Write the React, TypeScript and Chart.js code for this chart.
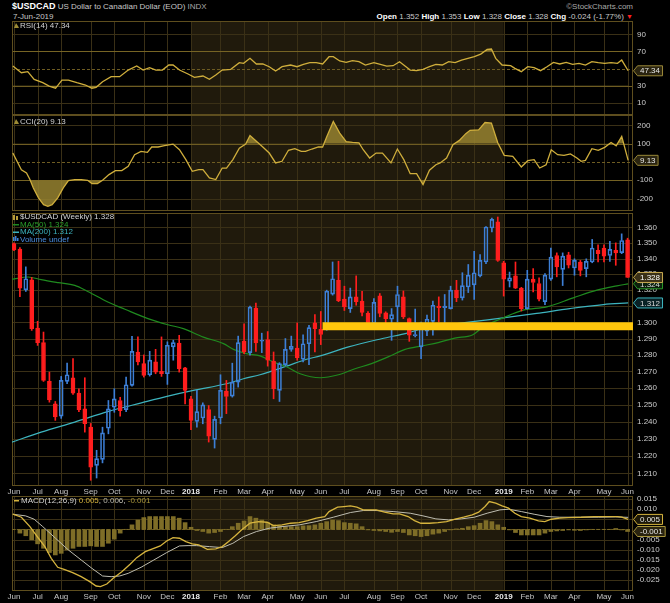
import React, { useEffect, useRef } from 'react';
import { Chart, registerables } from 'chart.js';
Chart.register(...registerables);

const FONT = '"Liberation Sans", Arial, sans-serif';
const BG = '#000000';
const SHADE = '#201a0c';
const GRID = '#3a3016';
const GRID_BRIGHT = '#6e5c22';
const FRAME = '#5e4e1e';
const TXT = '#cccccc';

// ---------- time axis (weekly bars, index 0 = first week of Jun-2017, 104 = 7-Jun-2019) ----------
const MONTH_IDX = [0, 4, 8, 13, 17, 22, 26, 30, 35, 39, 43, 48, 52, 56, 61, 65, 69, 74, 78, 83, 87, 91, 95, 100, 104];
const MONTH_LBL = ['Jun', 'Jul', 'Aug', 'Sep', 'Oct', 'Nov', 'Dec', '2018', 'Feb', 'Mar', 'Apr', 'May', 'Jun', 'Jul', 'Aug', 'Sep', 'Oct', 'Nov', 'Dec', '2019', 'Feb', 'Mar', 'Apr', 'May', 'Jun'];
const SHADE_START = 30;
const SHADE_END = 83;
const X_MIN = -0.34;
const X_MAX = 104.92;

// ---------- price candles ----------
const opens = [1.3495, 1.346, 1.3202, 1.3265, 1.2965, 1.2875, 1.264, 1.2506, 1.2433, 1.264, 1.2662, 1.257, 1.2476, 1.2368, 1.2146, 1.218, 1.2362, 1.2486, 1.2526, 1.2472, 1.2616, 1.2818, 1.2747, 1.268, 1.2758, 1.27, 1.2686, 1.2849, 1.2873, 1.2722, 1.2536, 1.2402, 1.2422, 1.2472, 1.2297, 1.2422, 1.2582, 1.2552, 1.2636, 1.2883, 1.2814, 1.3088, 1.2884, 1.2894, 1.2762, 1.2586, 1.2741, 1.2834, 1.2842, 1.2774, 1.2868, 1.2996, 1.2957, 1.2957, 1.3175, 1.3262, 1.3144, 1.3085, 1.3158, 1.3132, 1.3055, 1.2992, 1.3164, 1.3059, 1.3019, 1.3096, 1.3158, 1.3023, 1.2917, 1.2849, 1.2945, 1.3006, 1.31, 1.309, 1.3085, 1.32, 1.3152, 1.322, 1.3233, 1.329, 1.3378, 1.3596, 1.3635, 1.3373, 1.3256, 1.329, 1.3213, 1.3085, 1.3269, 1.3242, 1.3128, 1.3269, 1.3419, 1.3331, 1.3423, 1.334, 1.3378, 1.3336, 1.3378, 1.3452, 1.3467, 1.3419, 1.3452, 1.3438, 1.352];
const highs = [1.35, 1.347, 1.3347, 1.328, 1.3006, 1.294, 1.2696, 1.252, 1.267, 1.275, 1.2778, 1.2596, 1.2662, 1.239, 1.2233, 1.2368, 1.2526, 1.2596, 1.2545, 1.2666, 1.2913, 1.291, 1.28, 1.2822, 1.2834, 1.291, 1.288, 1.289, 1.292, 1.2725, 1.255, 1.2586, 1.2512, 1.2496, 1.2433, 1.268, 1.2646, 1.275, 1.2915, 1.299, 1.31, 1.312, 1.2933, 1.2943, 1.2818, 1.2753, 1.29, 1.2915, 1.2996, 1.2923, 1.2981, 1.3048, 1.3067, 1.32, 1.3378, 1.3383, 1.3225, 1.3213, 1.329, 1.3193, 1.3067, 1.3148, 1.3179, 1.3065, 1.3085, 1.3225, 1.3195, 1.3027, 1.3082, 1.3002, 1.3044, 1.3132, 1.3158, 1.3173, 1.3225, 1.3262, 1.331, 1.3362, 1.3446, 1.3425, 1.3605, 1.366, 1.3667, 1.3382, 1.3314, 1.3378, 1.3218, 1.3325, 1.3336, 1.3277, 1.3304, 1.3467, 1.3436, 1.3436, 1.344, 1.3398, 1.3388, 1.3398, 1.3522, 1.3488, 1.3488, 1.351, 1.35, 1.3558, 1.353];
const lows = [1.345, 1.316, 1.3192, 1.295, 1.2858, 1.264, 1.2516, 1.2408, 1.242, 1.2626, 1.2562, 1.246, 1.2339, 1.206, 1.2073, 1.216, 1.2329, 1.2456, 1.2433, 1.246, 1.2612, 1.274, 1.2666, 1.2672, 1.2686, 1.267, 1.2622, 1.2768, 1.2696, 1.2506, 1.2354, 1.2368, 1.2388, 1.2281, 1.2246, 1.2388, 1.2448, 1.2546, 1.2606, 1.2808, 1.2798, 1.2822, 1.2814, 1.2732, 1.2536, 1.252, 1.2732, 1.2822, 1.2768, 1.2758, 1.2741, 1.2818, 1.2863, 1.2951, 1.3169, 1.3128, 1.3073, 1.3061, 1.3106, 1.304, 1.2971, 1.2971, 1.3034, 1.2998, 1.2889, 1.3002, 1.3023, 1.2883, 1.291, 1.2778, 1.2917, 1.2921, 1.3002, 1.2998, 1.3082, 1.3128, 1.3138, 1.3185, 1.3142, 1.3284, 1.3367, 1.357, 1.3382, 1.3163, 1.322, 1.321, 1.307, 1.3082, 1.3189, 1.3132, 1.311, 1.3262, 1.3284, 1.3229, 1.334, 1.3294, 1.329, 1.3284, 1.3373, 1.3378, 1.3378, 1.3382, 1.3357, 1.3431, 1.328];
const closes = [1.3455, 1.3213, 1.3272, 1.2961, 1.2875, 1.2646, 1.253, 1.2428, 1.2646, 1.268, 1.257, 1.2472, 1.2388, 1.2136, 1.2185, 1.2335, 1.2476, 1.2536, 1.2466, 1.262, 1.2822, 1.2758, 1.2676, 1.2768, 1.2696, 1.2686, 1.2859, 1.2875, 1.2716, 1.2586, 1.2408, 1.246, 1.25, 1.2316, 1.2414, 1.2586, 1.255, 1.2636, 1.2875, 1.2818, 1.3094, 1.2873, 1.2888, 1.2768, 1.2596, 1.2747, 1.2834, 1.2852, 1.2784, 1.2868, 1.2967, 1.2961, 1.2925, 1.3193, 1.3272, 1.3134, 1.3096, 1.3158, 1.3128, 1.3061, 1.2982, 1.3124, 1.3055, 1.3023, 1.3048, 1.3173, 1.3034, 1.2921, 1.2925, 1.2996, 1.3019, 1.3106, 1.309, 1.31, 1.32, 1.3152, 1.3229, 1.3294, 1.331, 1.3388, 1.3602, 1.3652, 1.3388, 1.3269, 1.3277, 1.3213, 1.3085, 1.3269, 1.3248, 1.3144, 1.3294, 1.3409, 1.3346, 1.3415, 1.3357, 1.3388, 1.3325, 1.3382, 1.3467, 1.3431, 1.3415, 1.3458, 1.3436, 1.3515, 1.328];

// moving averages, [bar index, value]
const MA50: [number, number][] = [[-0.34, 1.3268], [2.4, 1.3283], [4.6, 1.3266], [7.5, 1.3247], [10.3, 1.323], [12.5, 1.3192], [15.9, 1.3126], [18.8, 1.3081], [22.7, 1.3023], [26.1, 1.2985], [28.7, 1.2961], [32.1, 1.2909], [35.5, 1.2869], [37.2, 1.2834], [39.4, 1.2808], [41.7, 1.2794], [43.9, 1.2758], [46.2, 1.2728], [48.5, 1.2686], [51.9, 1.2662], [55, 1.268], [57.8, 1.2716], [60.6, 1.2747], [63.4, 1.2788], [66.3, 1.2834], [69.1, 1.2855], [71.9, 1.2875], [74.7, 1.2903], [77.7, 1.2922], [79.5, 1.2971], [82.9, 1.3027], [86.3, 1.3075], [90.3, 1.3096], [94.8, 1.3152], [98.8, 1.32], [102.2, 1.3227], [104.1, 1.324]];
const MA200: [number, number][] = [[-0.34, 1.228], [4.6, 1.2339], [10.3, 1.2398], [15.9, 1.246], [21.6, 1.2512], [26.1, 1.2552], [30.4, 1.2586], [36, 1.2626], [38.9, 1.2656], [41.7, 1.268], [46.2, 1.2732], [49.6, 1.2774], [51.9, 1.2794], [56.7, 1.2849], [62.3, 1.2899], [66.8, 1.2935], [70.2, 1.2971], [73.6, 1.2985], [78.1, 1.3006], [82.9, 1.3027], [88.6, 1.3055], [94.2, 1.3085], [99.9, 1.311], [104.1, 1.312]];
const SUPPORT_LEVEL = 1.2975;
const SUPPORT_FROM = 52.3;

// ---------- RSI(14) ----------
const RSI: [number, number][] = [[-0.2, 52.9], [1.25, 45.1], [2.33, 46.3], [3.42, 37.3], [4.87, 33.4], [5.96, 29.5], [7.04, 26.8], [8.13, 36.5], [9.22, 36.5], [10.66, 33.4], [12.11, 30.7], [13.2, 26.8], [13.92, 28], [15.01, 34.6], [16.46, 40.4], [17.91, 40.4], [19.36, 48.2], [20.8, 52.9], [21.89, 48.2], [22.98, 51], [24.06, 48.2], [25.15, 48.2], [26.24, 54.1], [26.96, 54.1], [28.05, 48.2], [29.5, 43.6], [30.58, 39.7], [32.03, 41.2], [33.12, 37.3], [34.2, 42.4], [35.29, 48.2], [36.74, 49], [38.19, 56.8], [38.91, 56], [40, 61.9], [41.08, 55.3], [42.17, 55.3], [43.26, 52.1], [44.34, 47.1], [45.43, 52.1], [46.88, 54.1], [47.97, 52.1], [49.05, 54.9], [50.14, 56.8], [51.23, 56.8], [52.31, 55.3], [53.4, 63.8], [54.12, 63.8], [55.21, 58.8], [56.3, 57.2], [57.38, 59.2], [58.47, 58], [59.56, 54.1], [61, 56.8], [62.09, 54.9], [63.18, 52.9], [64.26, 53.3], [65.35, 58], [66.44, 52.1], [67.16, 48.2], [68.24, 47.5], [69.33, 49], [70.42, 52.1], [71.51, 54.9], [72.59, 54.1], [73.68, 58], [74.77, 56.8], [75.85, 59.9], [76.94, 61.9], [78.03, 63.8], [79.11, 66.9], [80.2, 72.4], [80.92, 72.8], [81.65, 61.9], [82.73, 54.1], [84.18, 53.3], [84.9, 50.2], [85.99, 46.3], [87.08, 52.1], [88.16, 51], [89.25, 47.5], [90.34, 52.1], [91.43, 57.2], [92.51, 55.3], [93.6, 57.2], [94.69, 54.9], [95.77, 56], [96.86, 54.1], [97.95, 58], [99.03, 56.8], [100.12, 56], [101.2, 56.8], [102.29, 56], [103.01, 59.9], [104.1, 47.34]];
const RSI_TICKS = [10, 30, 50, 70, 90];

// ---------- CCI(20) ----------
const CCI: [number, number][] = [[-0.2, 49], [1.25, -42], [2.12, -60], [2.7, -96], [3.28, -142], [4.15, -196], [5.01, -233], [5.74, -242], [6.46, -233], [7.41, -196], [8.35, -142], [9.22, -102], [10.3, -96], [11.39, -96], [12.48, -100], [13.2, -118], [14.14, -118], [15.01, -100], [16.1, -69], [17.18, -47], [18.27, -47], [19.36, -24], [20.44, 40], [21.53, 58], [22.61, 53], [23.34, 82], [24.42, 82], [25.51, 89], [26.96, 98], [28.05, 67], [29.13, 13], [30.22, -51], [31.31, -42], [32.03, -42], [33.12, -87], [34.2, -96], [35.29, -33], [36.02, -33], [37.1, 13], [38.19, 76], [39.27, 98], [40, 145], [41.08, 113], [42.17, 82], [43.26, 49], [44.34, -5], [45.43, 4], [46.52, 64], [47.6, 73], [48.69, 58], [49.41, 58], [50.5, 71], [51.59, 82], [52.31, 82], [53.03, 140], [54.12, 222], [55.21, 158], [56.3, 111], [57.38, 107], [58.47, 104], [59.19, 67], [60.28, 22], [61.37, 49], [62.45, 49], [63.9, -5], [64.98, 71], [66.07, 13], [67.16, -64], [68.24, -64], [69.33, -124], [70.42, -45], [71.51, -15], [72.23, -5], [73.32, 22], [74.4, 95], [75.49, 118], [76.58, 155], [77.3, 173], [78.75, 176], [79.84, 216], [80.92, 213], [82.01, 104], [83.09, 36], [84.54, 31], [85.99, -27], [87.08, 7], [88.16, 13], [89.1, -33], [90.19, -15], [91.06, 67], [92.15, 40], [93.23, 36], [94.32, 44], [95.41, 22], [96.13, 4], [96.86, 9], [97.95, 73], [99.03, 64], [100.12, 80], [101.2, 107], [102.07, 89], [103.01, 140], [104.1, 9.13]];
const CCI_TICKS = [-200, -100, 0, 100, 200];

// ---------- MACD(12,26,9) ----------
const MACD: [number, number][] = [[-0.2, 0.00756], [1.25, 0.00607], [2.7, 0.00144], [4.15, -0.00434], [5.23, -0.00847], [6.32, -0.01426], [7.41, -0.01872], [8.49, -0.01971], [9.94, -0.02137], [11.39, -0.02335], [12.84, -0.02583], [13.92, -0.02798], [14.65, -0.02831], [15.73, -0.02699], [16.82, -0.02418], [18.27, -0.02087], [19.72, -0.01707], [20.8, -0.01393], [22.25, -0.01095], [23.7, -0.0093], [24.79, -0.00814], [25.87, -0.00566], [26.96, -0.00401], [28.05, -0.00434], [29.13, -0.00599], [30.22, -0.00715], [31.31, -0.00765], [32.76, -0.0098], [34.2, -0.00963], [35.29, -0.00847], [36.38, -0.00599], [37.46, -0.00318], [38.55, -0.00021], [40, 0.0031], [41.45, 0.00392], [42.9, 0.00359], [43.98, 0.00194], [45.43, 0.00227], [46.88, 0.0031], [48.33, 0.00343], [49.78, 0.00442], [51.23, 0.00558], [52.67, 0.0064], [53.4, 0.00888], [54.85, 0.01103], [55.93, 0.01136], [57.02, 0.01169], [58.11, 0.01103], [59.19, 0.00971], [60.28, 0.00971], [61.37, 0.00971], [62.81, 0.00855], [64.26, 0.00773], [65.35, 0.00773], [66.8, 0.0064], [67.88, 0.00442], [68.97, 0.0031], [70.42, 0.0031], [71.87, 0.00343], [73.32, 0.00392], [74.77, 0.00508], [76.21, 0.00607], [77.66, 0.00723], [78.75, 0.00855], [79.84, 0.01136], [80.56, 0.01384], [81.65, 0.01302], [82.73, 0.01169], [83.82, 0.01054], [84.9, 0.00806], [85.99, 0.0064], [87.44, 0.00558], [88.89, 0.00426], [89.97, 0.00392], [91.06, 0.00508], [92.51, 0.00558], [93.96, 0.00591], [96.13, 0.00607], [98.31, 0.0064], [100.48, 0.0064], [102.29, 0.0064], [103.01, 0.00607], [104.1, 0.005]];
const SIGNAL: [number, number][] = [[-0.2, 0.00756], [1.97, 0.00674], [3.42, 0.00508], [4.87, 0.00144], [7.04, -0.00434], [9.22, -0.01013], [11.39, -0.01509], [13.2, -0.01922], [15.01, -0.02302], [16.46, -0.02335], [17.91, -0.02302], [19.36, -0.0217], [21.53, -0.01872], [23.7, -0.01509], [25.87, -0.01145], [28.05, -0.00814], [29.5, -0.00798], [30.94, -0.00798], [33.12, -0.00847], [35.29, -0.00897], [37.1, -0.00682], [38.91, -0.00351], [41.08, -0.00103], [43.26, 0.00062], [45.43, 0.00144], [48.33, 0.00227], [51.23, 0.00392], [54.12, 0.00607], [57.02, 0.00839], [59.19, 0.00938], [61.37, 0.00938], [64.26, 0.00888], [67.16, 0.00806], [69.33, 0.00674], [71.51, 0.00525], [73.68, 0.00475], [75.85, 0.00525], [78.03, 0.00607], [80.2, 0.00806], [82.37, 0.00971], [83.82, 0.01004], [85.99, 0.00888], [88.16, 0.00756], [90.34, 0.0064], [92.51, 0.00607], [95.41, 0.00607], [99.03, 0.00607], [101.93, 0.00624], [104.1, 0.006]];
const HIST = [0, -0.0018, -0.0031, -0.0051, -0.0071, -0.0093, -0.0114, -0.0126, -0.0118, -0.0101, -0.0093, -0.0084, -0.0084, -0.0081, -0.0084, -0.0084, -0.0068, -0.0048, -0.0018, 0.0001, 0.0023, 0.0047, 0.0059, 0.0064, 0.0064, 0.0064, 0.0064, 0.0064, 0.0056, 0.0034, 0.0011, -0.0005, -0.001, -0.0018, -0.0015, -0.001, 0.0001, 0.0014, 0.0031, 0.0042, 0.0064, 0.0056, 0.0047, 0.0034, 0.0023, 0.0018, 0.0014, 0.0014, 0.0014, 0.0018, 0.0019, 0.0023, 0.0031, 0.0039, 0.0047, 0.0044, 0.0034, 0.0031, 0.0028, 0.0014, -0.0002, -0.0005, -0.0007, -0.001, -0.0014, -0.001, -0.0015, -0.0027, -0.0031, -0.0035, -0.0031, -0.0023, -0.0018, -0.001, -0.0002, 0.0003, 0.0006, 0.0014, 0.0019, 0.0031, 0.0044, 0.0039, 0.0023, 0.0011, -0.0002, -0.0015, -0.0027, -0.0027, -0.0027, -0.0027, -0.0018, -0.001, -0.0007, -0.0005, -0.0002, -0.0004, -0.0005, -0.0002, 0.0001, 0.0001, 0.0001, 0.0001, 0.0005, -0.0002, -0.001];
const MACD_TICKS = [-0.025, -0.02, -0.015, -0.01, -0.005, 0, 0.005, 0.01, 0.015];
const PRICE_TICKS = [1.21, 1.22, 1.23, 1.24, 1.25, 1.26, 1.27, 1.28, 1.29, 1.3, 1.31, 1.32, 1.33, 1.34, 1.35, 1.36];

// ---------- helpers ----------
const UP = '#3d7fd6';
const DOWN = '#ff1e1e';
const GOLD = '#cfae3c';
const FILL = 'rgba(150,130,48,0.85)';

function drawTag(ctx: CanvasRenderingContext2D, xTip: number, y: number, text: string, border: string, fill: string, color: string) {
  ctx.save();
  ctx.font = `8px ${FONT}`;
  const w = ctx.measureText(text).width + 5;
  const h = 10;
  ctx.beginPath();
  ctx.moveTo(xTip + 0.5, y);
  ctx.lineTo(xTip + 4.5, y - h / 2);
  ctx.lineTo(xTip + 4.5 + w, y - h / 2);
  ctx.lineTo(xTip + 4.5 + w, y + h / 2);
  ctx.lineTo(xTip + 4.5, y + h / 2);
  ctx.closePath();
  ctx.fillStyle = fill;
  ctx.fill();
  ctx.lineWidth = 1;
  ctx.strokeStyle = border;
  ctx.stroke();
  ctx.fillStyle = color;
  ctx.textBaseline = 'middle';
  ctx.textAlign = 'left';
  ctx.fillText(text, xTip + 7, y + 0.5);
  ctx.restore();
}

function drawText(ctx: CanvasRenderingContext2D, parts: [string, string][], x: number, y: number, weight = 'normal') {
  ctx.save();
  ctx.font = `${weight} 8px ${FONT}`;
  ctx.textBaseline = 'middle';
  ctx.textAlign = 'left';
  let cx = x;
  for (const [t, c] of parts) {
    ctx.fillStyle = c;
    ctx.fillText(t, cx, y);
    cx += ctx.measureText(t).width;
  }
  ctx.restore();
}

interface PanelSpec {
  padTop: number;
  padBottom: number;
  showX: boolean;
  log?: boolean;
  yMin: number;
  yMax: number;
  ticks: number[];
  bright: number[];
  dashed: number[];
  fmt: (v: number) => string;
}

function panelPlugin(spec: PanelSpec, after: (chart: any) => void) {
  return {
    id: 'panelBg',
    beforeDraw(chart: any) {
      const { ctx, chartArea: a } = chart;
      const x = chart.scales.x;
      const y = chart.scales.y;
      ctx.save();
      ctx.fillStyle = BG;
      ctx.fillRect(a.left, a.top, a.right - a.left, a.bottom - a.top);
      const s0 = x.getPixelForValue(SHADE_START);
      const s1 = x.getPixelForValue(SHADE_END);
      ctx.fillStyle = SHADE;
      ctx.fillRect(s0, a.top, s1 - s0, a.bottom - a.top);
      ctx.lineWidth = 1;
      ctx.strokeStyle = GRID;
      for (const i of MONTH_IDX) {
        const px = Math.round(x.getPixelForValue(i)) + 0.5;
        ctx.beginPath();
        ctx.moveTo(px, a.top);
        ctx.lineTo(px, a.bottom);
        ctx.stroke();
      }
      for (const v of spec.ticks) {
        const py = Math.round(y.getPixelForValue(v)) + 0.5;
        ctx.strokeStyle = spec.bright.includes(v) || spec.dashed.includes(v) ? GRID_BRIGHT : GRID;
        ctx.setLineDash(spec.dashed.includes(v) ? [3, 2] : []);
        ctx.beginPath();
        ctx.moveTo(a.left, py);
        ctx.lineTo(a.right, py);
        ctx.stroke();
      }
      ctx.setLineDash([]);
      ctx.strokeStyle = FRAME;
      ctx.strokeRect(a.left + 0.5, a.top + 0.5, a.right - a.left - 1, a.bottom - a.top - 1);
      ctx.restore();
    },
    afterDraw(chart: any) {
      after(chart);
    },
  };
}

function makeOptions(spec: PanelSpec): any {
  return {
    responsive: false,
    animation: false,
    events: [],
    layout: { padding: { left: 12, right: 0, top: spec.padTop, bottom: spec.padBottom } },
    plugins: { legend: { display: false }, tooltip: { enabled: false } },
    scales: {
      x: {
        type: 'linear',
        min: X_MIN,
        max: X_MAX,
        offset: false,
        display: spec.showX,
        grid: { display: false, drawTicks: false },
        border: { display: false },
        afterBuildTicks: (s: any) => {
          s.ticks = MONTH_IDX.map((v) => ({ value: v }));
        },
        afterFit: (s: any) => {
          s.height = spec.showX ? 12 : 0;
          s.paddingLeft = 0;
          s.paddingRight = 0;
          s.paddingTop = 0;
          s.paddingBottom = 0;
        },
        ticks: {
          autoSkip: false,
          maxRotation: 0,
          minRotation: 0,
          padding: 1,
          callback: (_v: any, i: number) => MONTH_LBL[i],
          font: (c: any) => ({ family: FONT, size: 8, weight: (MONTH_LBL[c.index] || '').startsWith('20') ? 'bold' : 'normal' }),
          color: (c: any) => ((MONTH_LBL[c.index] || '').startsWith('20') ? '#e8e8e8' : '#c4c4c4'),
        },
      },
      y: {
        type: spec.log ? 'logarithmic' : 'linear',
        position: 'right',
        min: spec.yMin,
        max: spec.yMax,
        grid: { display: false, drawTicks: false },
        border: { display: false },
        afterBuildTicks: (s: any) => {
          s.ticks = spec.ticks.map((v) => ({ value: v }));
        },
        afterFit: (s: any) => {
          s.width = 37;
          s.paddingTop = 0;
          s.paddingBottom = 0;
          s.paddingLeft = 0;
          s.paddingRight = 0;
        },
        ticks: {
          autoSkip: false,
          padding: 4,
          callback: (v: any) => spec.fmt(Number(v)),
          font: { family: FONT, size: 8 },
          color: TXT,
        },
      },
    },
  };
}

const lineDs = (pts: [number, number][], color: string, width: number, extra: any = {}) => ({
  type: 'line',
  data: pts.map(([x, y]) => ({ x, y })),
  borderColor: color,
  borderWidth: width,
  pointRadius: 0,
  tension: 0,
  fill: false,
  ...extra,
});

// ---------- panel specs ----------
const RSI_SPEC: PanelSpec = { padTop: 21, padBottom: 1, showX: false, yMin: -4.4, yMax: 105.6, ticks: RSI_TICKS, bright: [30, 70], dashed: [50], fmt: (v) => String(v) };
const CCI_SPEC: PanelSpec = { padTop: 0, padBottom: 1, showX: false, yMin: -268, yMax: 257, ticks: CCI_TICKS, bright: [-100, 100], dashed: [0], fmt: (v) => String(v) };
const MAIN_SPEC: PanelSpec = { padTop: 1, padBottom: 0, showX: true, log: true, yMin: 1.20272, yMax: 1.3693, ticks: PRICE_TICKS, bright: [], dashed: [], fmt: (v) => v.toFixed(3) };
const MACD_SPEC: PanelSpec = { padTop: 1, padBottom: 0, showX: true, yMin: -0.03045, yMax: 0.01658, ticks: MACD_TICKS, bright: [], dashed: [0], fmt: (v) => v.toFixed(3) };

function rsiConfig(): any {
  return {
    type: 'line',
    data: {
      datasets: [
        lineDs(RSI, GOLD, 1.3, { fill: { target: { value: 70 }, above: FILL, below: 'rgba(0,0,0,0)' } }),
        lineDs(RSI, 'rgba(0,0,0,0)', 0, { fill: { target: { value: 30 }, above: 'rgba(0,0,0,0)', below: FILL } }),
      ],
    },
    options: makeOptions(RSI_SPEC),
    plugins: [
      panelPlugin(RSI_SPEC, (chart) => {
        const { ctx, chartArea: a, scales } = chart;
        ctx.save();
        ctx.fillStyle = '#9c8a34';
        ctx.beginPath();
        ctx.moveTo(14, a.top + 7);
        ctx.lineTo(16, a.top + 2);
        ctx.lineTo(18, a.top + 5);
        ctx.lineTo(19, a.top + 7);
        ctx.closePath();
        ctx.fill();
        ctx.restore();
        drawText(ctx, [['RSI(14) 47.34', '#d2d2d2']], 20, a.top + 4.5);
        drawTag(ctx, a.right, scales.y.getPixelForValue(47.34), '47.34', '#9a8838', '#2a2410', '#e6e6e6');
      }),
    ],
  };
}

function cciConfig(): any {
  return {
    type: 'line',
    data: {
      datasets: [
        lineDs(CCI, GOLD, 1.3, { fill: { target: { value: 100 }, above: FILL, below: 'rgba(0,0,0,0)' } }),
        lineDs(CCI, 'rgba(0,0,0,0)', 0, { fill: { target: { value: -100 }, above: 'rgba(0,0,0,0)', below: FILL } }),
      ],
    },
    options: makeOptions(CCI_SPEC),
    plugins: [
      panelPlugin(CCI_SPEC, (chart) => {
        const { ctx, chartArea: a, scales } = chart;
        ctx.save();
        ctx.fillStyle = '#9c8a34';
        ctx.beginPath();
        ctx.moveTo(14, a.top + 9);
        ctx.lineTo(16, a.top + 4);
        ctx.lineTo(18, a.top + 7);
        ctx.lineTo(19, a.top + 9);
        ctx.closePath();
        ctx.fill();
        ctx.restore();
        drawText(ctx, [['CCI(20) 9.13', '#d2d2d2']], 20, a.top + 6.5);
        drawTag(ctx, a.right, scales.y.getPixelForValue(9.13), '9.13', '#9a8838', '#2a2410', '#e6e6e6');
      }),
    ],
  };
}

function mainConfig(): any {
  const idx = opens.map((_, i) => i);
  const up = (i: number) => closes[i] >= opens[i];
  const col = idx.map((i) => (up(i) ? UP : DOWN));
  return {
    type: 'bar',
    data: {
      datasets: [
        lineDs([[SUPPORT_FROM, SUPPORT_LEVEL], [X_MAX, SUPPORT_LEVEL]], '#ffc60c', 8, { order: 0, borderCapStyle: 'butt' }),
        {
          type: 'bar',
          order: 2,
          data: idx.map((i) => ({ x: i, y: [opens[i], closes[i]] })),
          backgroundColor: idx.map((i) => (up(i) ? 'rgba(0,0,0,0)' : DOWN)),
          borderColor: col,
          borderWidth: 1,
          borderSkipped: false,
          barThickness: 4,
          minBarLength: 1,
          grouped: false,
        },
        {
          type: 'bar',
          order: 3,
          data: idx.map((i) => ({ x: i, y: [Math.max(opens[i], closes[i]), highs[i]] })),
          backgroundColor: col,
          borderWidth: 0,
          barThickness: 1,
          grouped: false,
        },
        {
          type: 'bar',
          order: 3,
          data: idx.map((i) => ({ x: i, y: [lows[i], Math.min(opens[i], closes[i])] })),
          backgroundColor: col,
          borderWidth: 0,
          barThickness: 1,
          grouped: false,
        },
        lineDs(MA50, '#1f8a1f', 1.2, { order: 4, cubicInterpolationMode: 'monotone' }),
        lineDs(MA200, '#3db4bf', 1.2, { order: 4, cubicInterpolationMode: 'monotone' }),
      ],
    },
    options: makeOptions(MAIN_SPEC),
    plugins: [
      panelPlugin(MAIN_SPEC, (chart) => {
        const { ctx, chartArea: a, scales } = chart;
        const t = a.top;
        ctx.save();
        ctx.fillStyle = '#b89c3a';
        ctx.fillRect(13, t + 2, 2, 5);
        ctx.fillRect(16, t + 3, 2, 4);
        ctx.fillStyle = '#1f8a1f';
        ctx.fillRect(13, t + 11, 6, 1.5);
        ctx.fillStyle = '#3db4bf';
        ctx.fillRect(13, t + 18.5, 6, 1.5);
        ctx.fillStyle = '#3d7fd6';
        ctx.fillRect(13, t + 24, 1.5, 4);
        ctx.fillRect(15, t + 23, 1.5, 5);
        ctx.fillRect(17, t + 25, 1.5, 3);
        ctx.restore();
        drawText(ctx, [['$USDCAD (Weekly) 1.328', '#d4d4d4']], 20, t + 4);
        drawText(ctx, [['MA(50) 1.324', '#2aa02a']], 20, t + 11.5);
        drawText(ctx, [['MA(200) 1.312', '#3db4bf']], 20, t + 19);
        drawText(ctx, [['Volume undef', '#4a8ee0']], 20, t + 26.5);
        const y = scales.y;
        drawTag(ctx, a.right, y.getPixelForValue(1.312), '1.312', '#3db4bf', '#0a2226', '#d8d8d8');
        drawTag(ctx, a.right, y.getPixelForValue(1.324), '1.324', '#2a9a2a', '#0c200c', '#d8d8d8');
        drawTag(ctx, a.right, y.getPixelForValue(1.328), '1.328', '#c8aa50', '#3a3018', '#ffffff');
      }),
    ],
  };
}

function macdConfig(): any {
  return {
    type: 'bar',
    data: {
      datasets: [
        lineDs(MACD, '#d6b43e', 1.3, { order: 0 }),
        lineDs(SIGNAL, '#bdbcb0', 1, { order: 1 }),
        {
          type: 'bar',
          order: 2,
          data: HIST.map((v, i) => ({ x: i, y: v })),
          backgroundColor: '#7e6d27',
          borderWidth: 0,
          barThickness: 4,
          grouped: false,
        },
      ],
    },
    options: makeOptions(MACD_SPEC),
    plugins: [
      panelPlugin(MACD_SPEC, (chart) => {
        const { ctx, chartArea: a, scales } = chart;
        ctx.save();
        ctx.fillStyle = '#d6b43e';
        ctx.fillRect(14, a.top + 4, 5, 1.5);
        ctx.restore();
        drawText(ctx, [['MACD(12,26,9) ', '#d2d2d2'], ['0.005', '#d6b43e'], [', ', '#d2d2d2'], ['0.006', '#bdbcb0'], [', ', '#d2d2d2'], ['-0.001', '#a8963c']], 21, a.top + 5);
        drawTag(ctx, a.right, scales.y.getPixelForValue(0.005), '0.005', '#d6b43e', '#1c1808', '#e6e6e6');
        drawTag(ctx, a.right, scales.y.getPixelForValue(-0.001), '-0.001', '#a8963c', '#2a2410', '#e6e6e6');
      }),
    ],
  };
}

export default function App() {
  const rsiRef = useRef<HTMLCanvasElement>(null);
  const cciRef = useRef<HTMLCanvasElement>(null);
  const mainRef = useRef<HTMLCanvasElement>(null);
  const macdRef = useRef<HTMLCanvasElement>(null);

  useEffect(() => {
    const charts: Chart[] = [];
    if (rsiRef.current) charts.push(new Chart(rsiRef.current, rsiConfig()));
    if (cciRef.current) charts.push(new Chart(cciRef.current, cciConfig()));
    if (mainRef.current) charts.push(new Chart(mainRef.current, mainConfig()));
    if (macdRef.current) charts.push(new Chart(macdRef.current, macdConfig()));
    return () => charts.forEach((c) => c.destroy());
  }, []);

  const abs = (top: number): React.CSSProperties => ({ position: 'absolute', left: 0, top });
  const txt: React.CSSProperties = { position: 'absolute', fontFamily: FONT, fontSize: 8, lineHeight: '9px', whiteSpace: 'nowrap' };

  return (
    <div style={{ position: 'fixed', left: 0, top: 0, width: 670, height: 603, background: '#000', overflow: 'hidden' }}>
      <div style={{ ...txt, left: 12, top: 2, color: '#c8c8c8' }}>
        <span style={{ fontWeight: 'bold', color: '#ffffff', fontSize: 9 }}>$USDCAD</span> US Dollar to Canadian Dollar (EOD) <span style={{ color: '#a8a8a8' }}>INDX</span>
      </div>
      <div style={{ ...txt, left: 13, top: 12, color: '#c8c8c8' }}>7-Jun-2019</div>
      <div style={{ ...txt, right: 37, top: 2, color: '#a8a8a8' }}>©StockCharts.com</div>
      <div style={{ ...txt, right: 37, top: 12, color: '#c8c8c8' }}>
        <b style={{ color: '#fff' }}>Open</b> 1.352 <b style={{ color: '#fff' }}>High</b> 1.353 <b style={{ color: '#fff' }}>Low</b> 1.328 <b style={{ color: '#fff' }}>Close</b> 1.328 <b style={{ color: '#fff' }}>Chg</b> -0.024 (-1.77%) <span style={{ color: '#ff2020', fontSize: 7 }}>▼</span>
      </div>
      <canvas ref={rsiRef} width={670} height={116} style={abs(0)} />
      <canvas ref={cciRef} width={670} height={97} style={abs(115)} />
      <canvas ref={mainRef} width={670} height={286} style={abs(212)} />
      <canvas ref={macdRef} width={670} height={108} style={abs(495)} />
    </div>
  );
}
